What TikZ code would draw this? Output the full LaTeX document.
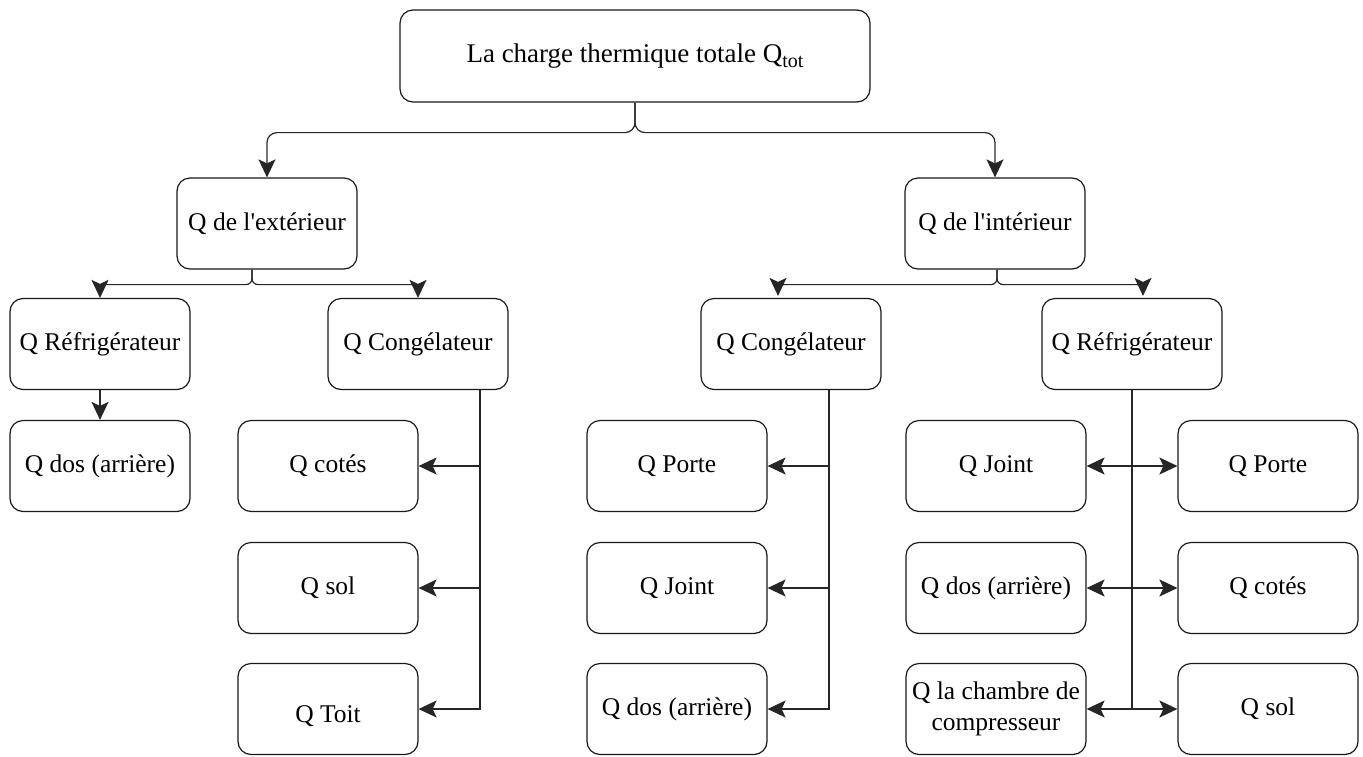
\documentclass[tikz,border=0pt]{standalone}
\usepackage{fontspec}
\setmainfont{Liberation Serif}
\usetikzlibrary{arrows.meta,calc}
\begin{document}
\begin{tikzpicture}[x=1pt,y=-1pt,
  box/.style={draw=black!90,line width=1.2pt,rounded corners=13pt,minimum width=180pt,minimum height=91pt,align=center,inner sep=2pt,font=\fontsize{25.5}{31}\selectfont},
  conn/.style={line width=1.2pt,draw=black!85},
  arr/.style={conn,-{Stealth[length=18pt,width=17pt,inset=4pt]}},
  arrtwo/.style={conn,{Stealth[length=18pt,width=17pt,inset=4pt]}-{Stealth[length=18pt,width=17pt,inset=4pt]}}
]
\useasboundingbox (0,0) rectangle (1363,756);

\node[box,minimum width=470pt,minimum height=92pt,font=\fontsize{27}{32}\selectfont] (top) at (635,56) {La charge thermique totale Q\raisebox{-5pt}{\fontsize{20}{20}\selectfont tot}};
\node[box] (ext) at (267,223.5) {Q de l\textquotesingle extérieur};
\node[box] (int) at (995,223.5) {Q de l\textquotesingle intérieur};
\node[box] (refL) at (100,344) {Q Réfrigérateur};
\node[box] (congL) at (418,344) {Q Congélateur};
\node[box] (dosL) at (100,466) {Q dos (arrière)};
\node[box] (cotL) at (328,466) {Q cotés};
\node[box] (solL) at (328,588) {Q sol};
\node[box,text height=31pt,text depth=5pt] (toitL) at (328,709) {Q Toit};
\node[box] (congI) at (791,344) {Q Congélateur};
\node[box] (refI) at (1132,344) {Q Réfrigérateur};
\node[box] (porteC) at (677,466) {Q Porte};
\node[box] (jointC) at (677,588) {Q Joint};
\node[box] (dosC) at (677,709) {Q dos (arrière)};
\node[box] (jointR) at (996,466) {Q Joint};
\node[box] (porteR) at (1268,466) {Q Porte};
\node[box] (dosR) at (996,588) {Q dos (arrière)};
\node[box] (cotR) at (1268,588) {Q cotés};
\node[box] (chR) at (996,709) {Q la chambre de\\compresseur};
\node[box] (solR) at (1268,709) {Q sol};

% top brace
\draw[arr,rounded corners=10pt] (top.south) -- ++(0,30) -| (ext.north);
\draw[arr,rounded corners=10pt] (top.south) -- ++(0,30) -| (int.north);

% exterior brace
\coordinate (eb) at ($(ext.south)+(-15,0)$);
\draw[arr,rounded corners=6pt] (eb) -- ++(0,15) -| (refL.north);
\draw[arr,rounded corners=6pt] (eb) -- ++(0,15) -| (congL.north);

% interior brace
\coordinate (ib) at ($(int.south)+(2,0)$);
\coordinate (ciN) at ($(congI.north)+(-13,-2)$);
\coordinate (riN) at ($(refI.north)+(11,-2)$);
\draw[arr,rounded corners=6pt] (ib) -- ++(0,15) -| (ciN);
\draw[arr,rounded corners=6pt] (ib) -- ++(0,15) -| (riN);

% left refrigerator
\draw[arr] (refL) -- (dosL);

% left freezer trunk
\coordinate (cl) at ($(congL.south)+(62,0)$);
\draw[arr] (cl) |- (toitL.east);
\draw[arr] (cl |- cotL.east) -- (cotL.east);
\draw[arr] (cl |- solL.east) -- (solL.east);

% interior freezer trunk
\coordinate (cc) at ($(congI.south)+(38,0)$);
\draw[arr] (cc) |- (dosC.east);
\draw[arr] (cc |- porteC.east) -- (porteC.east);
\draw[arr] (cc |- jointC.east) -- (jointC.east);

% interior refrigerator trunk
\coordinate (rc) at (refI.south);
\draw[conn] (rc) -- (rc |- chR.east);
\draw[arrtwo] (jointR.east) -- (porteR.west);
\draw[arrtwo] (dosR.east) -- (cotR.west);
\draw[arrtwo] (chR.east) -- (solR.west);
\end{tikzpicture}
\end{document}
